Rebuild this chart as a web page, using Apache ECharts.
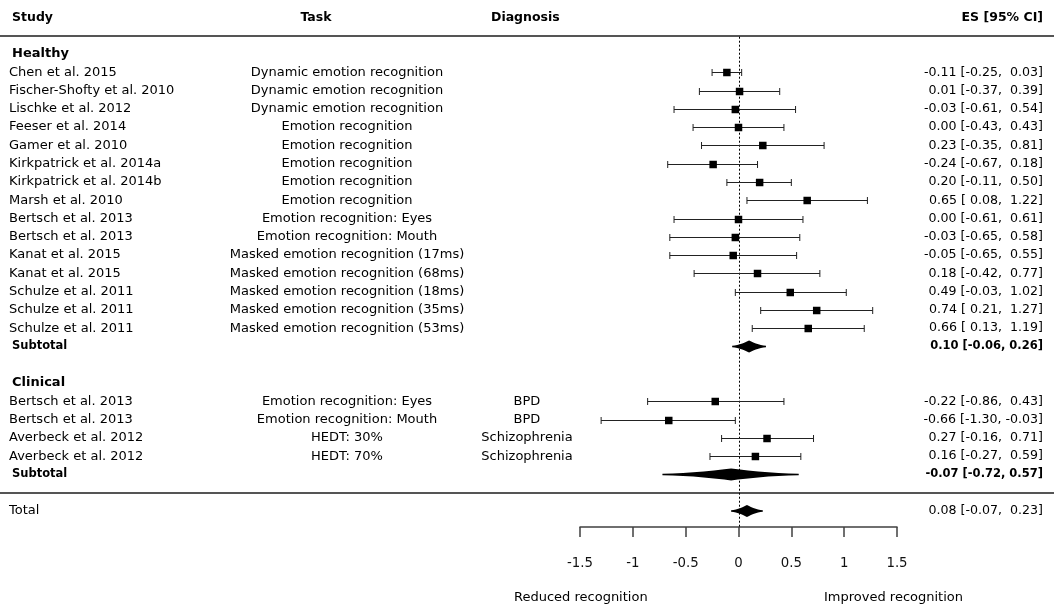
<!DOCTYPE html>
<html>
<head>
<meta charset="utf-8">
<script src="https://cdn.jsdelivr.net/npm/echarts@6/dist/echarts.min.js"></script>
<style>
html,body{margin:0;padding:0;background:#fff;}
#chart{width:1054px;height:610px;}
</style>
</head>
<body>
<div id="chart"></div>
<script>
// ---------- data ----------
const healthyStudy = [
  'Chen et al. 2015','Fischer-Shofty et al. 2010','Lischke et al. 2012','Feeser et al. 2014',
  'Gamer et al. 2010','Kirkpatrick et al. 2014a','Kirkpatrick et al. 2014b','Marsh et al. 2010',
  'Bertsch et al. 2013','Bertsch et al. 2013','Kanat et al. 2015','Kanat et al. 2015',
  'Schulze et al. 2011','Schulze et al. 2011','Schulze et al. 2011'
];
const healthyTask = [
  'Dynamic emotion recognition','Dynamic emotion recognition','Dynamic emotion recognition',
  'Emotion recognition','Emotion recognition','Emotion recognition','Emotion recognition',
  'Emotion recognition','Emotion recognition: Eyes','Emotion recognition: Mouth',
  'Masked emotion recognition (17ms)','Masked emotion recognition (68ms)',
  'Masked emotion recognition (18ms)','Masked emotion recognition (35ms)',
  'Masked emotion recognition (53ms)'
];
const healthyES = [-0.11, 0.01, -0.03, 0.00, 0.23, -0.24, 0.20, 0.65, 0.00, -0.03, -0.05, 0.18, 0.49, 0.74, 0.66];
const healthyLo = [-0.25, -0.37, -0.61, -0.43, -0.35, -0.67, -0.11, 0.08, -0.61, -0.65, -0.65, -0.42, -0.03, 0.21, 0.13];
const healthyHi = [0.03, 0.39, 0.54, 0.43, 0.81, 0.18, 0.50, 1.22, 0.61, 0.58, 0.55, 0.77, 1.02, 1.27, 1.19];

const clinicalStudy = ['Bertsch et al. 2013','Bertsch et al. 2013','Averbeck et al. 2012','Averbeck et al. 2012'];
const clinicalTask = ['Emotion recognition: Eyes','Emotion recognition: Mouth','HEDT: 30%','HEDT: 70%'];
const clinicalDiagnosis = ['BPD','BPD','Schizophrenia','Schizophrenia'];
const clinicalES = [-0.22, -0.66, 0.27, 0.16];
const clinicalLo = [-0.86, -1.30, -0.16, -0.27];
const clinicalHi = [0.43, -0.03, 0.71, 0.59];

const healthySubtotal = [0.10, -0.06, 0.26];
const clinicalSubtotal = [-0.07, -0.72, 0.57];
const totalES = [0.08, -0.07, 0.23];

const headers = ['Study', 'Task', 'Diagnosis', 'ES [95% CI]'];
const groupNames = ['Healthy', 'Clinical'];
const xTicks = [-1.5, -1, -0.5, 0, 0.5, 1, 1.5];
const axisNotes = ['Reduced recognition', 'Improved recognition'];

// ---------- layout rows ----------
const FONT = 'DejaVu Sans';
const rowHealthyHead = 0;
const rowHealthyFirst = 1;
const rowHealthySub = rowHealthyFirst + healthyStudy.length;      // 16
const rowClinicalHead = rowHealthySub + 2;                         // 18
const rowClinicalFirst = rowClinicalHead + 1;                      // 19
const rowClinicalSub = rowClinicalFirst + clinicalStudy.length;    // 23
const rowTotal = rowClinicalSub + 2;                               // 25

function f2(v){ return v.toFixed(2); }
function pad(v){ return v < 0 ? f2(v) : ' ' + f2(v); }
function esLabel(e, l, h){ return f2(e) + ' [' + pad(l) + ', ' + pad(h) + ']'; }
function esLabelBold(e, l, h){ return f2(e) + ' [' + f2(l) + ', ' + f2(h) + ']'; }

const ciData = [];
healthyES.forEach((e, i) => ciData.push([e, healthyLo[i], healthyHi[i], rowHealthyFirst + i]));
clinicalES.forEach((e, i) => ciData.push([e, clinicalLo[i], clinicalHi[i], rowClinicalFirst + i]));

const diamondData = [
  [healthySubtotal[0], healthySubtotal[1], healthySubtotal[2], rowHealthySub],
  [clinicalSubtotal[0], clinicalSubtotal[1], clinicalSubtotal[2], rowClinicalSub],
  [totalES[0], totalES[1], totalES[2], rowTotal]
];

const COL = {study: 9, bold: 12, task: 347, diag: 527, es: 1043};
const cells = [];
function cell(row, text, x, align, bold, size){ cells.push({row, text, x, align, bold, size}); }
cell(-2, headers[0], COL.bold, 'left', true, 12.5);
cell(-2, headers[1], 316, 'center', true, 12.5);
cell(-2, headers[2], 491, 'left', true, 12.5);
cell(-2, headers[3], COL.es, 'right', true, 12.5);
cell(rowHealthyHead, groupNames[0], COL.bold, 'left', true, 13);
healthyStudy.forEach((s, i) => {
  const r = rowHealthyFirst + i;
  cell(r, s, COL.study, 'left', false, 13);
  cell(r, healthyTask[i], COL.task, 'center', false, 13);
  cell(r, esLabel(healthyES[i], healthyLo[i], healthyHi[i]), COL.es, 'right', false, 12.6);
});
cell(rowHealthySub, 'Subtotal', COL.bold, 'left', true, 11.5);
cell(rowHealthySub, esLabelBold(...healthySubtotal), COL.es, 'right', true, 11.5);
cell(rowClinicalHead, groupNames[1], COL.bold, 'left', true, 13);
clinicalStudy.forEach((s, i) => {
  const r = rowClinicalFirst + i;
  cell(r, s, COL.study, 'left', false, 13);
  cell(r, clinicalTask[i], COL.task, 'center', false, 13);
  cell(r, clinicalDiagnosis[i], COL.diag, 'center', false, 13);
  cell(r, esLabel(clinicalES[i], clinicalLo[i], clinicalHi[i]), COL.es, 'right', false, 12.6);
});
cell(rowClinicalSub, 'Subtotal', COL.bold, 'left', true, 11.5);
cell(rowClinicalSub, esLabelBold(...clinicalSubtotal), COL.es, 'right', true, 11.5);
cell(rowTotal, 'Total', COL.study, 'left', false, 13);
cell(rowTotal, esLabel(...totalES), COL.es, 'right', false, 12.6);

const chart = echarts.init(document.getElementById('chart'), null, {renderer: 'canvas'});

function diamondPoints(xL, xE, xH, y, H){
  const ts = [1, 0.85, 0.7, 0.55, 0.4, 0.25, 0.1, 0];
  const hf = t => 0.7 + (H - 0.7) * Math.pow(1 - t, 1.6);
  const pts = [];
  ts.forEach(t => pts.push([xE - t * (xE - xL), y - hf(t)]));
  ts.slice().reverse().forEach(t => pts.push([xE + t * (xH - xE), y - hf(t)]));
  ts.forEach(t => pts.push([xE + t * (xH - xE), y + hf(t)]));
  ts.slice().reverse().forEach(t => pts.push([xE - t * (xE - xL), y + hf(t)]));
  return pts;
}

const option = {
  animation: false,
  backgroundColor: '#fff',
  grid: {left: 580, right: 157, top: 8.3, bottom: 83, containLabel: false},
  xAxis: {
    type: 'value', position: 'bottom', min: -1.5, max: 1.5, interval: 0.5,
    axisLine: {show: true, onZero: false, lineStyle: {color: '#404040', width: 1.5}},
    axisTick: {show: true, inside: false, length: 10, lineStyle: {color: '#404040', width: 1.5}},
    axisLabel: {
      margin: 30, color: '#111', fontFamily: FONT, fontSize: 13.3,
      customValues: xTicks,
      formatter: v => String(v)
    },
    splitLine: {show: false}
  },
  yAxis: {type: 'value', min: -2.5, max: 25.875, inverse: true, show: false},
  series: [
    {
      type: 'custom', name: 'rules', clip: false, silent: true,
      data: [[0, -1], [0, rowClinicalSub + 1]],
      renderItem: (params, api) => {
        const y = Math.round(api.coord([0, api.value(1)])[1]);
        return {type: 'line', shape: {x1: 0, y1: y, x2: 1054, y2: y},
          style: {stroke: '#555', lineWidth: 2}};
      }
    },
    {
      type: 'custom', name: 'zero', clip: false, silent: true,
      data: [[0, -1, 25.875]],
      renderItem: (params, api) => {
        const p1 = api.coord([api.value(0), api.value(1)]);
        const p2 = api.coord([api.value(0), api.value(2)]);
        const x = Math.round(p1[0]) + 0.5;
        return {type: 'line', shape: {x1: x, y1: p1[1] + 1, x2: x, y2: p2[1]},
          style: {stroke: '#000', lineWidth: 1, lineDash: [2, 2]}};
      }
    },
    {
      type: 'custom', name: 'ci', clip: false,
      data: ciData,
      renderItem: (params, api) => {
        const row = api.value(3);
        const pE = api.coord([api.value(0), row]);
        const pL = api.coord([api.value(1), row]);
        const pH = api.coord([api.value(2), row]);
        const y = Math.round(pE[1]) + 0.5;
        const s = 7.5;
        const st = {stroke: '#222', lineWidth: 1};
        return {type: 'group', children: [
          {type: 'line', shape: {x1: pL[0], y1: y, x2: pH[0], y2: y}, style: st},
          {type: 'line', shape: {x1: pL[0], y1: y - 3.5, x2: pL[0], y2: y + 3.5}, style: st},
          {type: 'line', shape: {x1: pH[0], y1: y - 3.5, x2: pH[0], y2: y + 3.5}, style: st},
          {type: 'rect', shape: {x: pE[0] - s / 2, y: y - s / 2, width: s, height: s}, style: {fill: '#000'}}
        ]};
      }
    },
    {
      type: 'custom', name: 'diamond', clip: false,
      data: diamondData,
      renderItem: (params, api) => {
        const row = api.value(3);
        const pE = api.coord([api.value(0), row]);
        const pL = api.coord([api.value(1), row]);
        const pH = api.coord([api.value(2), row]);
        return {type: 'polygon', shape: {points: diamondPoints(pL[0], pE[0], pH[0], pE[1], 6)},
          style: {fill: '#000'}};
      }
    },
    {
      type: 'custom', name: 'text', clip: false, silent: true,
      data: cells.map(c => [0, c.row]),
      renderItem: (params, api) => {
        const c = cells[params.dataIndex];
        const y = api.coord([0, c.row])[1];
        return {type: 'text', x: c.x, y: y,
          style: {text: c.text, textAlign: c.align, textVerticalAlign: 'middle',
            fill: '#000', font: (c.bold ? 'bold ' : '') + c.size + 'px "' + FONT + '"'}};
      }
    }
  ],
  graphic: [
    {type: 'text', left: 514, top: 591, style: {text: axisNotes[0], fill: '#000', font: '13px "' + FONT + '"'}},
    {type: 'text', left: 824, top: 591, style: {text: axisNotes[1], fill: '#000', font: '13px "' + FONT + '"'}}
  ]
};
chart.setOption(option);
</script>
</body>
</html>
